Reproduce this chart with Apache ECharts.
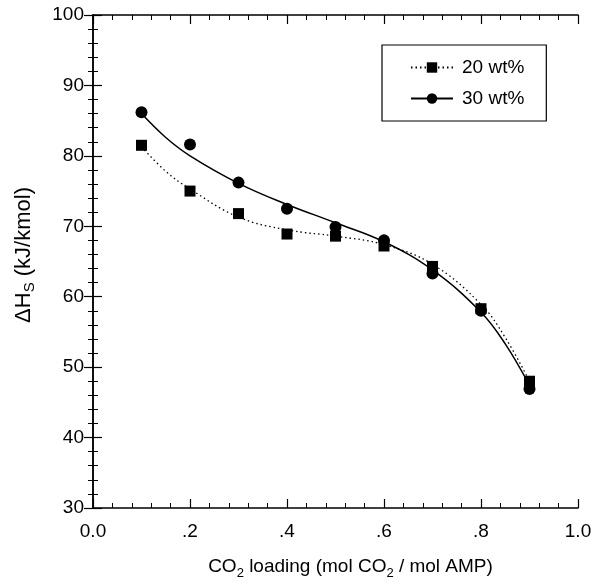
<!DOCTYPE html>
<html>
<head>
<meta charset="utf-8">
<script src="https://cdn.jsdelivr.net/npm/echarts@6/dist/echarts.min.js"></script>
<style>html,body{margin:0;padding:0;background:#fff}#c{width:604px;height:586px}</style>
</head>
<body>
<div id="c"></div>
<script>
// measured points
const loading = [0.1, 0.2, 0.3, 0.4, 0.5, 0.6, 0.7, 0.8, 0.9];
const wt20 = [81.5, 75.0, 71.8, 68.9, 68.6, 67.2, 64.3, 58.3, 48.0];
const wt30 = [86.2, 81.6, 76.2, 72.5, 69.9, 68.0, 63.3, 58.0, 46.9];
// fitted curves
const curveX = [0.1, 0.15, 0.2, 0.3, 0.4, 0.5, 0.6, 0.7, 0.8, 0.85, 0.9];
const curve20 = [81.3, 77.8, 75.3, 71.3, 69.5, 68.6, 67.4, 64.6, 58.9, 54.2, 48.0];
const curve30 = [86.0, 82.6, 80.0, 76.1, 73.1, 70.5, 67.8, 63.8, 57.8, 53.3, 47.4];
const xTicks = ['0.0', '.2', '.4', '.6', '.8', '1.0'];

const FONT = '"Liberation Sans", Arial, sans-serif';
const pair = (xs, ys) => xs.map((x, i) => [x, ys[i]]);

const chart = echarts.init(document.getElementById('c'), null, { renderer: 'canvas' });
chart.setOption({
  animation: false,
  backgroundColor: '#fff',
  textStyle: { fontFamily: FONT, color: '#000' },
  grid: { left: 93, right: 26, top: 15, bottom: 78, containLabel: false },
  legend: {
    orient: 'vertical',
    left: 382, top: 45,
    padding: [13, 22, 13, 28],
    itemGap: 12,
    itemWidth: 42, itemHeight: 13,
    borderColor: '#000', borderWidth: 1.2,
    backgroundColor: '#fff',
    textStyle: { fontSize: 19, fontFamily: FONT, color: '#000', padding: [0, 0, 0, 4] },
    data: ['20 wt%', '30 wt%']
  },
  xAxis: [
    {
      type: 'value', min: 0, max: 1, interval: 0.2, position: 'bottom',
      axisLine: { show: true, lineStyle: { color: '#000', width: 1.5 } },
      axisTick: { show: true, length: -9, lineStyle: { color: '#000', width: 1.2 } },
      minorTick: { show: true, splitNumber: 5, length: -5, lineStyle: { color: '#000', width: 1 } },
      splitLine: { show: false },
      axisLabel: { fontSize: 19, color: '#000', fontFamily: FONT, margin: 14,
        formatter: v => xTicks[Math.round(v / 0.2)] },
      name: '{n|CO}{s|2}{n| loading (mol CO}{s|2}{n| / mol AMP)}',
      nameLocation: 'middle', nameGap: 47,
      nameTextStyle: { padding: [0, 0, 0, 30], rich: {
        n: { fontSize: 19, fontFamily: FONT, color: '#000', lineHeight: 24 },
        s: { fontSize: 13, fontFamily: FONT, color: '#000', lineHeight: 24, padding: [12, 0, 0, 0] }
      } }
    },
    {
      type: 'value', min: 0, max: 1, interval: 0.2, position: 'top',
      axisLine: { show: true, lineStyle: { color: '#000', width: 1.5 } },
      axisTick: { show: true, length: -9, lineStyle: { color: '#000', width: 1.2 } },
      minorTick: { show: true, splitNumber: 5, length: -5, lineStyle: { color: '#000', width: 1 } },
      splitLine: { show: false },
      axisLabel: { show: false }
    }
  ],
  yAxis: [
    {
      type: 'value', min: 30, max: 100, interval: 10, position: 'left',
      axisLine: { show: true, lineStyle: { color: '#000', width: 1.5 } },
      axisTick: { show: true, length: -9, lineStyle: { color: '#000', width: 1.2 } },
      minorTick: { show: true, splitNumber: 5, length: -5, lineStyle: { color: '#000', width: 1 } },
      splitLine: { show: false },
      axisLabel: { fontSize: 19, color: '#000', fontFamily: FONT, margin: 9 },
      name: '{n|ΔH}{s|S}{n| (kJ/kmol)}',
      nameLocation: 'middle', nameGap: 56,
      nameTextStyle: { padding: [0, 0, 0, 13], rich: {
        n: { fontSize: 22, fontFamily: FONT, color: '#000', lineHeight: 26 },
        s: { fontSize: 15, fontFamily: FONT, color: '#000', lineHeight: 26, padding: [12, 0, 0, 0] }
      } }
    },
    {
      type: 'value', min: 30, max: 100, interval: 10, position: 'right',
      axisLine: { show: true, lineStyle: { color: '#000', width: 1.5 } },
      axisTick: { show: true, length: -9, lineStyle: { color: '#000', width: 1.2 } },
      minorTick: { show: true, splitNumber: 5, length: -5, lineStyle: { color: '#000', width: 1 } },
      splitLine: { show: false },
      axisLabel: { show: false }
    }
  ],
  series: [
    {
      name: '20 wt%', type: 'line', smooth: 0.4, data: pair(curveX, curve20),
      showSymbol: false, symbol: 'rect', symbolSize: 11,
      itemStyle: { color: '#000', opacity: 1 },
      lineStyle: { color: '#000', width: 1.3, type: [1.5, 3] },
      z: 2
    },
    {
      name: '30 wt%', type: 'line', smooth: 0.4, data: pair(curveX, curve30),
      showSymbol: false, symbol: 'circle', symbolSize: 12,
      itemStyle: { color: '#000', opacity: 1 },
      lineStyle: { color: '#000', width: 1.5, type: 'solid' },
      z: 2
    },
    {
      name: '20 wt%', type: 'scatter', data: pair(loading, wt20),
      symbol: 'rect', symbolSize: 11, itemStyle: { color: '#000', opacity: 1 }, z: 3
    },
    {
      name: '30 wt%', type: 'scatter', data: pair(loading, wt30),
      symbol: 'circle', symbolSize: 12, itemStyle: { color: '#000', opacity: 1 }, z: 3
    }
  ]
});
</script>
</body>
</html>
